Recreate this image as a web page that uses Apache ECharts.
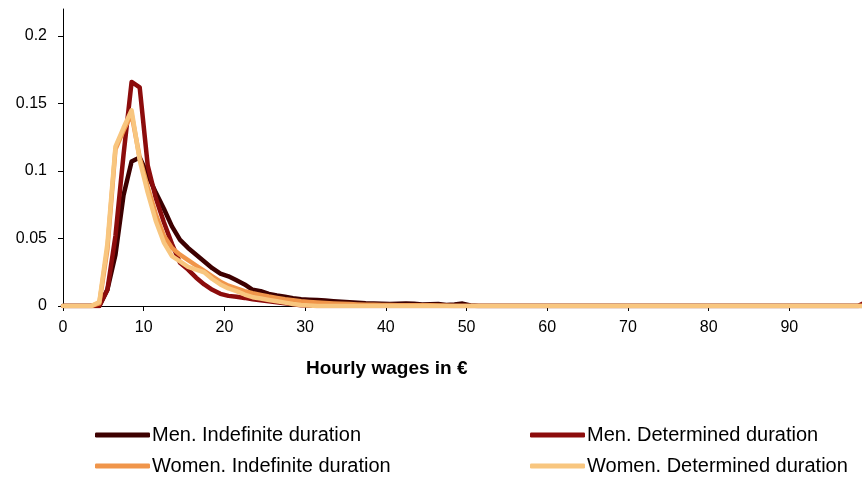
<!DOCTYPE html>
<html>
<head>
<meta charset="utf-8">
<title>Hourly wages distribution</title>
<script src="https://cdn.jsdelivr.net/npm/echarts@6/dist/echarts.min.js"></script>
<style>
  html, body { margin: 0; padding: 0; background: #fff; }
  #chart { width: 862px; height: 479px; }
</style>
</head>
<body>
<div id="chart"></div>
<script>
// wage bins (euro), first point at the axis origin then bin mid points
var wageBins = [0,
  0.5, 1.5, 2.5, 3.5, 4.5, 5.5, 6.5, 7.5, 8.5, 9.5,
  10.5, 11.5, 12.5, 13.5, 14.5, 15.5, 16.5, 17.5, 18.5, 19.5,
  20.5, 21.5, 22.5, 23.5, 24.5, 25.5, 26.5, 27.5, 28.5, 29.5,
  30.5, 31.5, 32.5, 33.5, 34.5, 35.5, 36.5, 37.5, 38.5, 39.5,
  40.5, 41.5, 42.5, 43.5, 44.5, 45.5, 46.5, 47.5, 48.5, 49.5,
  50.5, 51.5, 52.5, 53.5, 54.5, 55.5, 56.5, 57.5, 58.5, 59.5,
  60.5, 61.5, 62.5, 63.5, 64.5, 65.5, 66.5, 67.5, 68.5, 69.5,
  70.5, 71.5, 72.5, 73.5, 74.5, 75.5, 76.5, 77.5, 78.5, 79.5,
  80.5, 81.5, 82.5, 83.5, 84.5, 85.5, 86.5, 87.5, 88.5, 89.5,
  90.5, 91.5, 92.5, 93.5, 94.5, 95.5, 96.5, 97.5, 98.5, 99.5];

var seriesNames = [
  'Men. Indefinite duration',
  'Men. Determined duration',
  'Women. Indefinite duration',
  'Women. Determined duration'
];

var menIndefinite = [0,
  0, 0, 0, 0, 0, 0.012, 0.038, 0.082, 0.107, 0.110,
  0.097, 0.084, 0.072, 0.059, 0.049, 0.043, 0.038, 0.033, 0.028, 0.024,
  0.022, 0.019, 0.016, 0.012, 0.011, 0.009, 0.0078, 0.0068, 0.0058, 0.005,
  0.0047, 0.0044, 0.004, 0.0036, 0.0032, 0.0028, 0.0024, 0.002, 0.0018, 0.0016,
  0.0015, 0.0016, 0.0018, 0.0017, 0.0012, 0.0013, 0.0015, 0.0008, 0.0012, 0.0018,
  0.0004, 0, 0, 0, 0, 0, 0, 0, 0, 0,
  0, 0, 0, 0, 0, 0, 0, 0, 0, 0,
  0, 0, 0, 0, 0, 0, 0, 0, 0, 0,
  0, 0, 0, 0, 0, 0, 0, 0, 0, 0,
  0, 0, 0, 0, 0, 0, 0, 0, 0, 0];

var menDetermined = [0,
  0, 0, 0, 0, 0, 0.012, 0.052, 0.112, 0.166, 0.162,
  0.104, 0.080, 0.062, 0.046, 0.032, 0.027, 0.021, 0.016, 0.012, 0.009,
  0.0075, 0.0068, 0.006, 0.005, 0.0042, 0.0035, 0.0028, 0.002, 0.0012, 0.0006,
  0.0003, 0, 0, 0, 0, 0, 0, 0, 0, 0,
  0, 0, 0, 0, 0, 0, 0, 0, 0, 0,
  0, 0, 0, 0, 0, 0, 0, 0, 0, 0,
  0, 0, 0, 0, 0, 0, 0, 0, 0, 0,
  0, 0, 0, 0, 0, 0, 0, 0, 0, 0,
  0, 0, 0, 0, 0, 0, 0, 0, 0, 0,
  0, 0, 0, 0, 0, 0, 0, 0, 0, 0.003];

var womenIndefinite = [0,
  0, 0, 0, 0, 0.002, 0.042, 0.116, 0.130, 0.142, 0.110,
  0.088, 0.068, 0.052, 0.043, 0.038, 0.034, 0.030, 0.026, 0.022, 0.018,
  0.015, 0.013, 0.011, 0.0095, 0.0082, 0.007, 0.006, 0.005, 0.0042, 0.0035,
  0.003, 0.0026, 0.0022, 0.0019, 0.0016, 0.0014, 0.0012, 0.001, 0.0009, 0.0008,
  0.0007, 0.0006, 0.0005, 0.0005, 0.0006, 0.0005, 0.0004, 0.0002, 0, 0,
  0, 0, 0, 0, 0, 0, 0, 0, 0, 0,
  0, 0, 0, 0, 0, 0, 0, 0, 0, 0,
  0, 0, 0, 0, 0, 0, 0, 0, 0, 0,
  0, 0, 0, 0, 0, 0, 0, 0, 0, 0,
  0, 0, 0, 0, 0, 0, 0, 0, 0, 0];

var womenDetermined = [0,
  0, 0, 0, 0, 0.003, 0.046, 0.118, 0.132, 0.145, 0.108,
  0.084, 0.063, 0.047, 0.037, 0.033, 0.029, 0.027, 0.025, 0.020, 0.016,
  0.013, 0.011, 0.0085, 0.0065, 0.0055, 0.0045, 0.0035, 0.0025, 0.0015, 0.0008,
  0.0004, 0, 0, 0, 0, 0, 0, 0, 0, 0,
  0, 0, 0, 0, 0, 0, 0, 0, 0, 0,
  0, 0, 0, 0, 0, 0, 0, 0, 0, 0,
  0, 0, 0, 0, 0, 0, 0, 0, 0, 0,
  0, 0, 0, 0, 0, 0, 0, 0, 0, 0,
  0, 0, 0, 0, 0, 0, 0, 0, 0, 0,
  0, 0, 0, 0, 0, 0, 0, 0, 0, 0];

var xTickLabels = [0, 10, 20, 30, 40, 50, 60, 70, 80, 90];
var yTickLabels = [0, 0.05, 0.1, 0.15, 0.2];

var colors = ['#3d0000', '#8c0c0c', '#f0954a', '#f8c67f'];

function pairs(values) {
  return wageBins.map(function (x, i) { return [x, values[i]]; });
}

function lineSeries(name, values, color) {
  return {
    name: name,
    type: 'line',
    data: pairs(values),
    showSymbol: false,
    symbol: 'none',
    clip: true,
    color: color,
    lineStyle: { color: color, width: 4.5, join: 'round', cap: 'round' }
  };
}

var font = 'Liberation Sans, Arial, sans-serif';

function legendColumn(names, left) {
  return {
    data: names,
    orient: 'vertical',
    left: left,
    top: 425,
    padding: 0,
    height: 54,
    icon: 'roundRect',
    itemWidth: 55,
    itemHeight: 5,
    itemGap: 11,
    textStyle: { fontFamily: font, fontSize: 20, lineHeight: 20, color: '#000', padding: [0, 0, 0, -3] }
  };
}

var chart = echarts.init(document.getElementById('chart'));
chart.setOption({
  animation: false,
  backgroundColor: '#ffffff',
  textStyle: { fontFamily: font },
  title: {
    text: 'Hourly wages in €',
    left: 306,
    top: 359,
    padding: 0,
    textStyle: { fontFamily: font, fontSize: 19, fontWeight: 'bold', color: '#000' }
  },
  grid: { left: 63, right: 0, top: 9, bottom: 173, containLabel: false },
  xAxis: {
    type: 'value',
    min: 0,
    max: 99,
    interval: 10,
    splitLine: { show: false },
    axisLine: { onZero: false, lineStyle: { color: '#000', width: 1 } },
    axisTick: { show: true, length: 5, lineStyle: { color: '#000' }, customValues: xTickLabels },
    axisLabel: { color: '#000', fontSize: 16, margin: 14, customValues: xTickLabels }
  },
  yAxis: {
    type: 'value',
    min: 0,
    max: 0.22,
    interval: 0.05,
    splitLine: { show: false },
    axisLine: { show: true, lineStyle: { color: '#000', width: 1 } },
    axisTick: { show: true, length: 5, lineStyle: { color: '#000' }, customValues: yTickLabels },
    axisLabel: { color: '#000', fontSize: 16, margin: 16, customValues: yTickLabels }
  },
  legend: [
    legendColumn([seriesNames[0], seriesNames[2]], 95),
    legendColumn([seriesNames[1], seriesNames[3]], 530)
  ],
  series: [
    lineSeries(seriesNames[0], menIndefinite, colors[0]),
    lineSeries(seriesNames[1], menDetermined, colors[1]),
    lineSeries(seriesNames[2], womenIndefinite, colors[2]),
    lineSeries(seriesNames[3], womenDetermined, colors[3])
  ]
});
</script>
</body>
</html>
